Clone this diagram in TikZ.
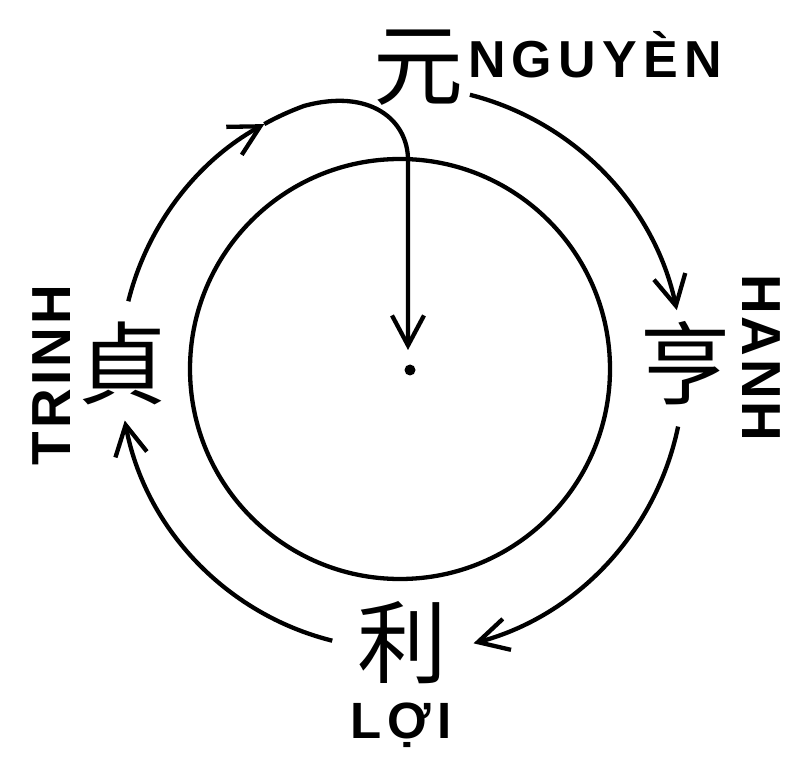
\documentclass[tikz,border=0pt]{standalone}
\usepackage{fontspec}
\newfontfamily\cjk{Noto Sans CJK TC}
\newfontfamily\lab{Liberation Sans}
\usetikzlibrary{arrows.meta,calc}
\begin{document}
\begin{tikzpicture}[x=1pt,y=1pt,
  line/.style={line width=4.3pt},
  tip/.style={-{Straight Barb[length=30pt,width=32pt]}},
  hanzi/.style={inner sep=0pt,font=\fontsize{90}{90}\selectfont\cjk},
  lbl/.style={inner sep=0pt,anchor=base west}]
\useasboundingbox[fill=white] (0,0) rectangle (800,772);
\coordinate (C) at (400,403);
% characters
\node[hanzi] (yuan) at (418,704) {元};
\node[hanzi] (heng) at (685,409) {亨};
\node[hanzi] (zhen) at (122,409) {貞};
\node[hanzi] (li) at (402,129) {利};
% labels
\node[lbl,font=\fontsize{52}{52}\selectfont\lab\bfseries\addfontfeatures{LetterSpace=11.9}] (nguyen) at (468,694) {NGUYÈN};
\node[lbl,rotate=-90,font=\fontsize{55}{55}\selectfont\lab\bfseries\addfontfeatures{LetterSpace=5}] (hanh) at (742,498) {HANH};
\node[lbl,rotate=90,font=\fontsize{55}{55}\selectfont\lab\bfseries\addfontfeatures{LetterSpace=6}] (trinh) at (70,306) {TRINH};
\node[lbl,font=\fontsize{51}{51}\selectfont\lab\bfseries\addfontfeatures{LetterSpace=12}] (loi) at (350,34) {LỢI};
% inner circle and centre
\draw[line] (C) circle[radius=210];
\node[circle,fill,inner sep=0pt,minimum size=11pt] (dot) at (410,402) {};
\coordinate (tipC) at (408,422);
% arcs
\coordinate (a1) at ($(C)+(166:280)$);
\coordinate (a2) at ($(C)+(119:280)$);
\draw[line,tip] (a1) arc[start angle=166,end angle=119,radius=280];
\draw[line,tip] (a2) arc[start angle=119,end angle=110,radius=280]
  .. controls (370,684) and (408,652) .. (408,612) -- (tipC);
\coordinate (b1) at ($(C)+(75.7:283)$);
\draw[line,tip] (b1) arc[start angle=75.7,end angle=12,radius=283];
\coordinate (c1) at ($(C)+(-11.7:284)$);
\draw[line,tip] (c1) arc[start angle=-11.7,end angle=-75,radius=284];
\coordinate (d1) at ($(C)+(256:280)$);
\draw[line,tip] (d1) arc[start angle=256,end angle=190.6,radius=280];
\end{tikzpicture}
\end{document}
